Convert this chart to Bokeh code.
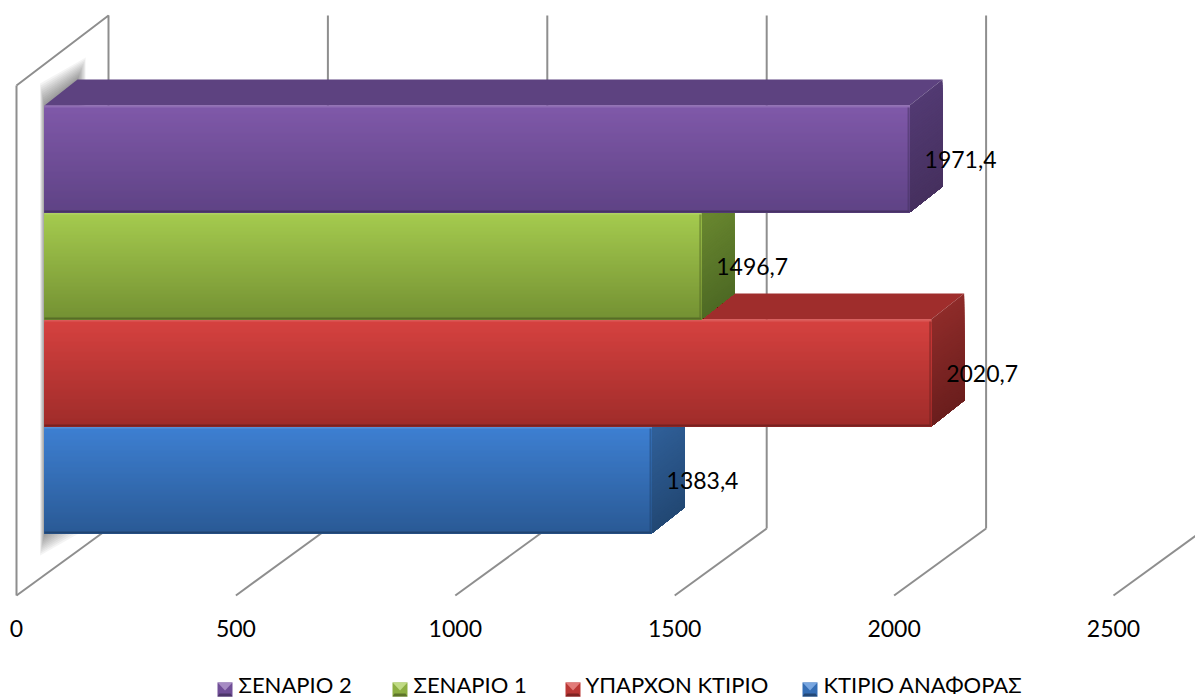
from bokeh.core.properties import value
from bokeh.embed import file_html
from bokeh.models import ColumnDataSource, Range1d
from bokeh.plotting import figure
from bokeh.resources import INLINE

# Chart data, listed bottom bar first
categories = ["ΚΤΙΡΙΟ ΑΝΑΦΟΡΑΣ", "ΥΠΑΡΧΟΝ ΚΤΙΡΙΟ", "ΣΕΝΑΡΙΟ 1", "ΣΕΝΑΡΙΟ 2"]
values = [1383.4, 2020.7, 1496.7, 1971.4]
value_labels = ["1383,4", "2020,7", "1496,7", "1971,4"]
axis_ticks = [0, 500, 1000, 1500, 2000, 2500]

# Shades per series: front top, front bottom, top face, side top, side bottom
shades = [
    ("#3e80d2", "#2a5a95", "#2d5f9e", "#30609a", "#224874"),
    ("#d64240", "#9f2c2a", "#9f2d2c", "#8e2b29", "#6b1e1d"),
    ("#a5cb4f", "#749133", "#6f8b30", "#6a8830", "#4e6a24"),
    ("#8059a9", "#5f4385", "#5d4280", "#523a72", "#46305f"),
]
legend_x = [802, 565, 392, 217]
legend_text_x = [823, 585, 413, 238]

# Projection layout: screen-like y units, x in data units
W, H = 1195, 698
SCALE = 0.4388
ORIGIN = 16
DX = 33 / SCALE       # depth of a bar, horizontally
DY = -26              # depth of a bar, vertically
BAR_START = 28 / SCALE
ROW_BOTTOM = 533
ROW_HEIGHT = 107
WALL_DX = 92 / SCALE
WALL_TOP = 15
WALL_DROP = 70
FLOOR_FRONT = 595
FLOOR_BACK = 528
GRID = "#8e8e8e"

p = figure(width=W, height=H, output_backend="svg", toolbar_location=None,
           x_range=Range1d(-ORIGIN / SCALE, (W - ORIGIN) / SCALE),
           y_range=Range1d(H, 0), min_border=0, outline_line_color=None)
p.axis.visible = False
p.grid.visible = False
p.background_fill_color = "white"
p.border_fill_color = "white"


def mix(a, b, t):
    ca = [int(a[i:i + 2], 16) for i in (1, 3, 5)]
    cb = [int(b[i:i + 2], 16) for i in (1, 3, 5)]
    return "#%02x%02x%02x" % tuple(round(x + (y - x) * t) for x, y in zip(ca, cb))


# Box frame: side wall, back gridlines and floor lines
p.line([0, WALL_DX, WALL_DX], [WALL_TOP + WALL_DROP, WALL_TOP, FLOOR_BACK],
       line_color=GRID, line_width=2)
p.line([0, 0], [WALL_TOP + WALL_DROP, FLOOR_FRONT], line_color=GRID, line_width=2)
for t in axis_ticks[1:]:
    if t < 2500:
        p.line([t + WALL_DX] * 2, [WALL_TOP, FLOOR_BACK], line_color=GRID, line_width=2)
for t in axis_ticks:
    p.line([t, t + WALL_DX], [FLOOR_FRONT, FLOOR_BACK], line_color=GRID, line_width=2)

# Soft shadow the bars cast on the side wall
top_y = ROW_BOTTOM - ROW_HEIGHT * len(values)
sx0, sx1 = BAR_START, BAR_START + DX
for k in range(1, 12):
    p.patch([sx0 - 0.4 * k / SCALE, sx1 + 0.75 * k / SCALE, sx1 + 0.75 * k / SCALE, sx0 - 0.4 * k / SCALE],
            [top_y - 2 * k, top_y + DY - 2 * k, ROW_BOTTOM + DY + 2 * k, ROW_BOTTOM + 2 * k],
            fill_color="#303030", fill_alpha=0.055, line_color=None)

# Bars, drawn bottom to top so each covers the top face of the one below
for i, v in enumerate(values):
    front, front_dark, top_c, side, side_dark = shades[i]
    yb = ROW_BOTTOM - ROW_HEIGHT * i
    yt = yb - ROW_HEIGHT
    x0 = BAR_START
    x1 = BAR_START + v

    p.patch([x0, x1, x1 + DX, x0 + DX], [yt, yt, yt + DY, yt + DY],
            fill_color=top_c, line_color=None)

    # Side face: each slice runs to the bottom edge and the next one paints over it
    n = 40
    xs, ys, cs = [], [], []
    for k in range(n):
        a = yt + (yb - yt) * k / n
        xs.append([x1, x1 + DX, x1 + DX, x1])
        ys.append([a, a + DY, yb + DY, yb])
        cs.append(mix(side, side_dark, k / (n - 1)))
    p.patches(xs, ys, fill_color=cs, line_color=None)

    # Front face: vertical gradient strips painted the same way
    rows = yb - yt
    strips = ColumnDataSource(dict(
        top=[yt + k for k in range(rows)],
        bottom=[yb] * rows,
        color=[mix(front, front_dark, k / (rows - 1)) for k in range(rows)],
    ))
    p.quad(left=x0, right=x1, top="top", bottom="bottom", color="color",
           line_color=None, source=strips)
    # Bevel edges on the front face
    p.quad(left=x0, right=x1, top=yt, bottom=yt + 2, color=mix(front, "#ffffff", 0.12), line_color=None)
    p.quad(left=x0, right=x1, top=yb - 2, bottom=yb, color=mix(front_dark, "#000000", 0.25), line_color=None)
    p.quad(left=x1 - 2 / SCALE, right=x1, top=yt + 2, bottom=yb - 2,
           color=mix(front_dark, "#000000", 0.3), fill_alpha=0.5, line_color=None)

font = value("Lato")

# Value labels sit just past each bar's front face
p.text(x=[BAR_START + v + 15 / SCALE for v in values],
       y=[ROW_BOTTOM - ROW_HEIGHT * i - 53 for i in range(len(values))],
       text=value_labels, text_font=font, text_font_size="23px", text_color="#000000",
       text_baseline="middle", text_align="left")

# Axis tick labels
p.text(x=axis_ticks, y=[628] * len(axis_ticks), text=[str(t) for t in axis_ticks],
       text_font=font, text_font_size="23px", text_color="#000000",
       text_baseline="middle", text_align="center")

# Legend: bevelled keys with their series names
data_x = lambda px: (px - ORIGIN) / SCALE
for i, c in enumerate(categories):
    kx0, kx1 = data_x(legend_x[i]), data_x(legend_x[i] + 15)
    front, front_dark = shades[i][0], shades[i][1]
    p.quad(left=kx0, right=kx1, top=682, bottom=696, color=mix(front, front_dark, 0.5), line_color=None)
    p.patch([kx0, kx1, (kx0 + kx1) / 2], [682, 682, 690],
            fill_color=mix(front, "#ffffff", 0.3), line_color=None)
    p.patch([kx0, kx1, kx1 - 2 / SCALE, kx0 + 2 / SCALE], [696, 696, 693, 693],
            fill_color=mix(front_dark, "#000000", 0.2), line_color=None)
    p.text(x=[data_x(legend_text_x[i])], y=[684], text=[c], text_font=font,
           text_font_size="22px", text_color="#000000", text_baseline="middle", text_align="left")

open("out.html", "w").write(file_html(p, INLINE))
